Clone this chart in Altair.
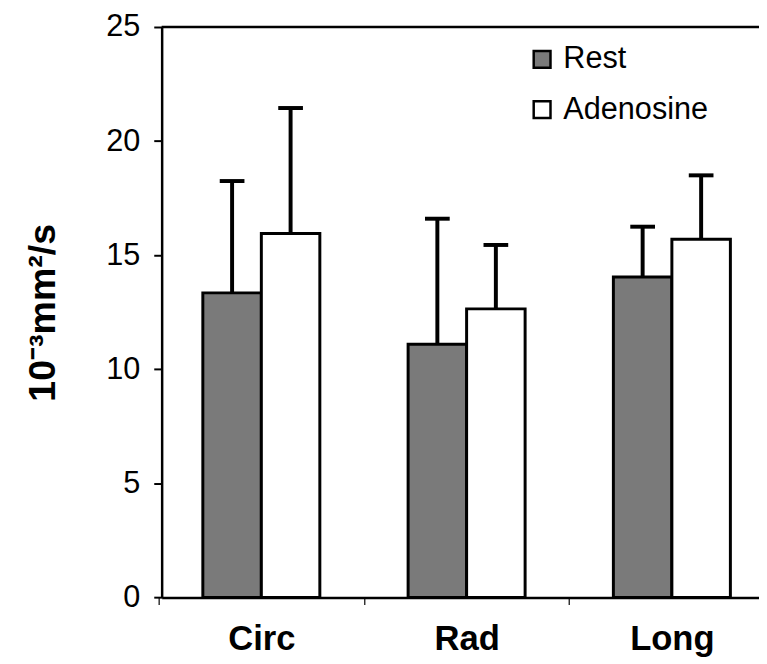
import altair as alt
import pandas as pd

categories = ["Circ", "Rad", "Long"]
conditions = ["Rest", "Adenosine"]
rest_mean = [13.35, 11.1, 14.05]
rest_sd = [4.9, 5.5, 2.2]
aden_mean = [15.95, 12.65, 15.7]
aden_sd = [5.5, 2.8, 2.8]
y_ticks = [0, 5, 10, 15, 20, 25]
y_title = "10\u207b\u00b3mm\u00b2/s"

rows = []
for i, c in enumerate(categories):
    rows.append({"cat": c, "cond": "Rest", "mean": rest_mean[i], "upper": rest_mean[i] + rest_sd[i]})
    rows.append({"cat": c, "cond": "Adenosine", "mean": aden_mean[i], "upper": aden_mean[i] + aden_sd[i]})
df = pd.DataFrame(rows)

FONT = "Liberation Sans"

x = alt.X(
    "cat:N", sort=categories,
    scale=alt.Scale(paddingInner=0.43, paddingOuter=0.17, align=0.59, round=False),
    axis=alt.Axis(title=None, labelAngle=0, labelFont=FONT, labelFontSize=35,
                  labelFontWeight="bold", labelColor="black", labelPadding=18,
                  tickOffset=-104, labelOffset=104,
                  tickColor="#333333", tickWidth=1.5, tickSize=7,
                  domainColor="black", domainWidth=2.5),
)
xo = alt.XOffset("cond:N", sort=conditions, scale=alt.Scale(paddingInner=0, paddingOuter=0))
yscale = alt.Scale(domain=[0, 25], nice=False, zero=True)
yaxis = alt.Axis(values=y_ticks, title=y_title, titleFont=FONT, titleFontSize=38,
                 titleFontWeight="bold", titleColor="black", titlePadding=44,
                 labelFont=FONT, labelFontSize=31, labelColor="black", labelPadding=14,
                 tickColor="black", tickWidth=2, tickSize=8,
                 domainColor="black", domainWidth=2.5, grid=False)

bars = alt.Chart(df).mark_bar(stroke="black", strokeWidth=3).encode(
    x=x, xOffset=xo,
    y=alt.Y("mean:Q", scale=yscale, axis=yaxis),
    color=alt.Color("cond:N", sort=conditions,
                    scale=alt.Scale(domain=conditions, range=["#7a7a7a", "#ffffff"]),
                    legend=alt.Legend(title=None, orient="none", legendX=369.5, legendY=17.2,
                                      symbolType="square", symbolSize=289,
                                      symbolStrokeColor="black", symbolStrokeWidth=2.5,
                                      labelFont=FONT, labelFontSize=31, labelColor="black",
                                      labelOffset=6, rowPadding=19, padding=0, labelLimit=400)),
)

rules = alt.Chart(df).mark_rule(color="black", strokeWidth=4).encode(
    x=x, xOffset=xo,
    y=alt.Y("mean:Q", scale=yscale, axis=yaxis),
    y2="upper:Q",
)

caps = alt.Chart(df).mark_tick(color="black", opacity=1, size=25, thickness=4).encode(
    x=x, xOffset=xo,
    y=alt.Y("upper:Q", scale=yscale, axis=yaxis),
)

top = alt.Chart(pd.DataFrame({"a": [0]})).mark_rule(color="black", strokeWidth=2.5).encode(
    y=alt.datum(25),
)

chart = alt.layer(bars, rules, caps, top).properties(
    width=604.5, height=577.4, autosize="none",
    padding={"left": 155.5, "top": 15.3, "right": 0, "bottom": 64},
).configure_view(stroke=None)

chart.save("out.html", embed_options={"renderer": "svg", "actions": False})
